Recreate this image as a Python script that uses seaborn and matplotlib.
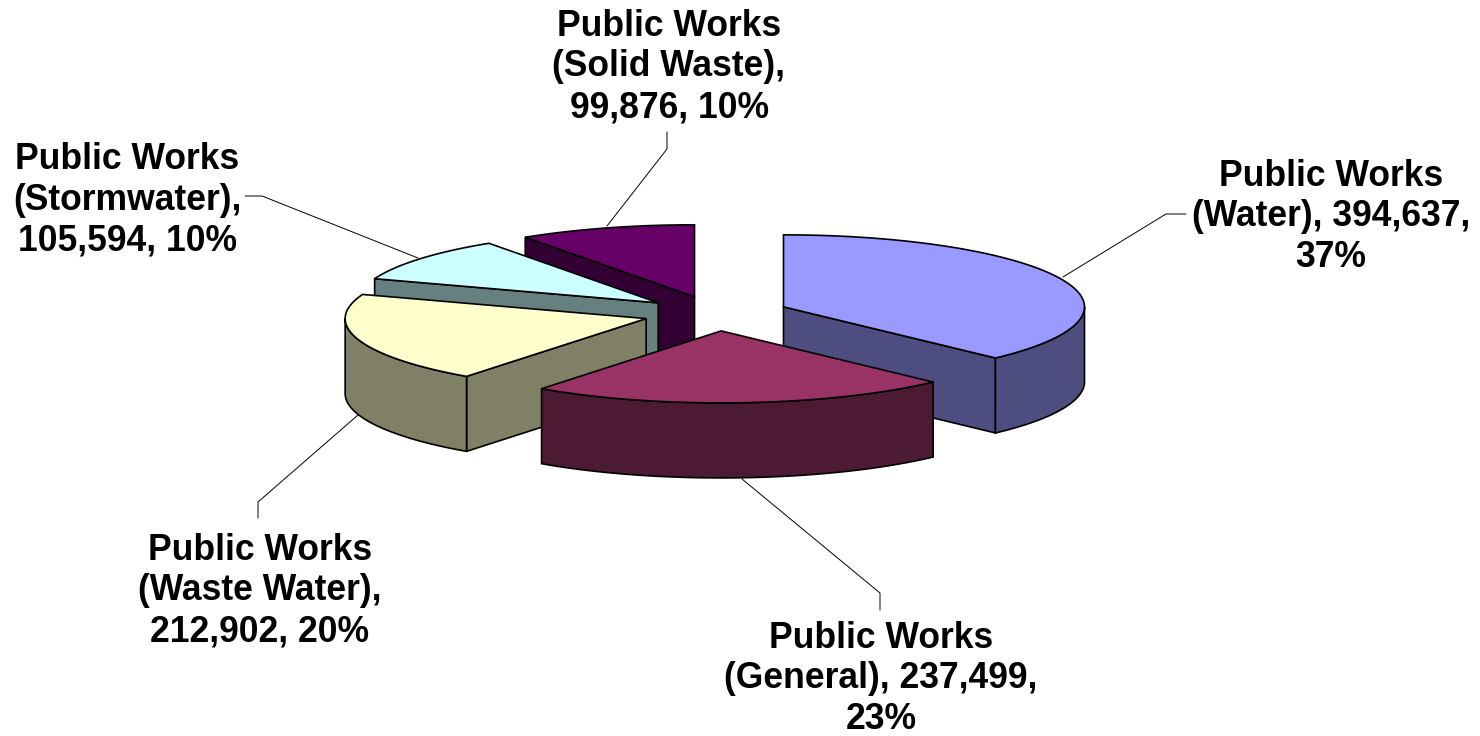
import numpy as np
import seaborn as sns
import matplotlib
matplotlib.use("Agg")
import matplotlib.pyplot as plt

# clockwise from 12 o'clock, as in the original chart
names = ["(Water)", "(General)", "(Waste Water)", "(Stormwater)", "(Solid Waste)"]
values = [394637, 237499, 212902, 105594, 99876]
percents = [37, 23, 20, 10, 10]
top_colors = ["#9999FF", "#993366", "#FFFFCC", "#CCFFFF", "#660066"]

# how each label breaks over its lines
label_formats = [
    "Public Works\n{n}, {v:,},\n{p}%",
    "Public Works\n{n}, {v:,},\n{p}%",
    "Public Works\n{n},\n{v:,}, {p}%",
    "Public Works\n{n},\n{v:,}, {p}%",
    "Public Works\n{n},\n{v:,}, {p}%",
]
label_pos = [(1331, 217), (881, 679), (260, 591), (127, 200), (669, 67)]
leaders = [
    [(1063, 277), (1166, 214), (1186, 214)],
    [(742, 479), (880, 593), (880, 610)],
    [(358, 415), (258, 502), (258, 518)],
    [(418, 258), (262, 196), (245, 196)],
    [(607, 226), (667, 149), (667, 132)],
]

# projection of the tilted pie, in pixels
cx, cy = 716, 313.5
rx, ry = 301, 72
depth = 75
explode = 0.2425
draw_order = {0: 6, 1: 7, 2: 5, 3: 4, 4: 3}  # back slices first

sns.set_theme(style="white")
plt.rcParams["font.family"] = ["Liberation Sans", "DejaVu Sans"]
palette = sns.color_palette(top_colors)

fig, ax = plt.subplots(figsize=(14.8, 7.36), dpi=100)
ax.set_position([0, 0, 1, 1])
ax.set_xlim(0, 1480)
ax.set_ylim(736, 0)
ax.axis("off")


def rim(x0, y0, a, b, n=120):
    t = np.radians(np.linspace(a, b, n))
    return x0 + rx * np.sin(t), y0 - ry * np.cos(t)


def cut_face(x0, y0, ang, color, z):
    ex, ey = rim(x0, y0, ang, ang, 1)
    ax.fill([x0, ex[0], ex[0], x0], [y0, ey[0], ey[0] + depth, y0 + depth],
            facecolor=color, edgecolor="black", lw=1.2, joinstyle="miter", zorder=z)


for pts in leaders:
    xs, ys = zip(*pts)
    ax.plot(xs, ys, color="black", lw=0.7, zorder=1)

edges = np.concatenate([[0], np.cumsum(values)]) / sum(values) * 360
for i, col in enumerate(palette):
    start, end = edges[i], edges[i + 1]
    mid = np.radians((start + end) / 2)
    x0 = cx + explode * rx * np.sin(mid)
    y0 = cy - explode * ry * np.cos(mid)
    dark = tuple(c * 0.5 for c in col)
    z = draw_order[i]

    if 180 < start < 360:
        cut_face(x0, y0, start, dark, z)
    if 0 < end < 180:
        cut_face(x0, y0, end, dark, z)
    lo, hi = max(start, 90), min(end, 270)
    if lo < hi:
        sx, sy = rim(x0, y0, lo, hi)
        ax.fill(np.r_[sx, sx[::-1]], np.r_[sy, sy[::-1] + depth],
                facecolor=dark, edgecolor="black", lw=1.2, zorder=z)
    tx, ty = rim(x0, y0, start, end)
    ax.fill(np.r_[x0, tx], np.r_[y0, ty], facecolor=col, edgecolor="black",
            lw=1.2, joinstyle="miter", zorder=z)

for i, fmt in enumerate(label_formats):
    label = fmt.format(n=names[i], v=values[i], p=percents[i])
    ax.text(label_pos[i][0], label_pos[i][1], label, ha="center", va="center",
            fontsize=25.6, fontweight="bold", color="black", linespacing=1.22, zorder=10)

fig.savefig("out.png", dpi=100, facecolor="white")
